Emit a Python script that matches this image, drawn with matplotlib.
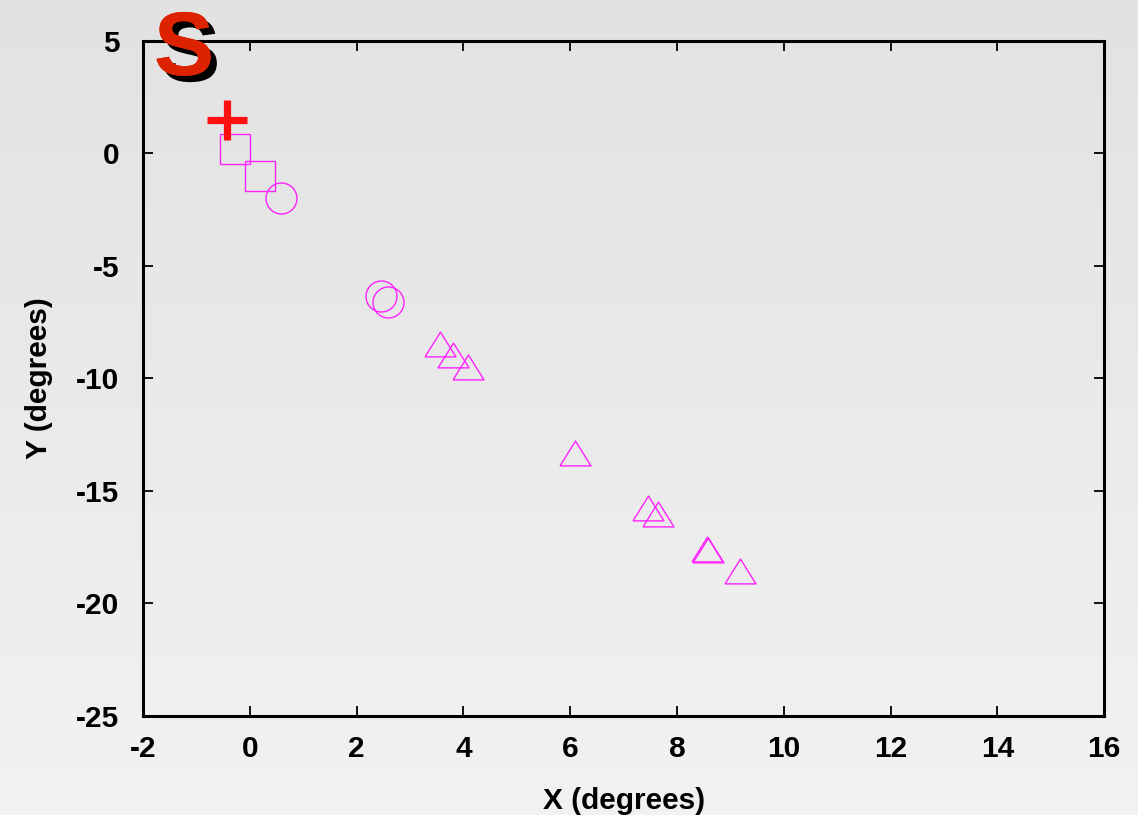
import numpy as np
import matplotlib
matplotlib.use("Agg")
import matplotlib.pyplot as plt
import matplotlib.patheffects as pe

plt.rcParams["font.family"] = ["Liberation Sans", "DejaVu Sans"]
plt.rcParams["axes.unicode_minus"] = False

# data
plus_x = [-0.43]
plus_y = [1.5]
square_x = [-0.28, 0.19]
square_y = [0.21, -1.0]
circle_x = [0.59, 2.46, 2.59]
circle_y = [-1.98, -6.33, -6.6]
tri_x = [3.56, 3.81, 4.08, 6.09, 7.46, 7.64, 8.56, 8.58, 9.18]
tri_y = [-8.45, -8.96, -9.49, -13.33, -15.74, -16.04, -17.57, -17.61, -18.56]

xticks = [-2, 0, 2, 4, 6, 8, 10, 12, 14, 16]
yticks = [5, 0, -5, -10, -15, -20, -25]

fig = plt.figure(figsize=(11.38, 8.15), dpi=100)

# grey gradient background
bg = fig.add_axes([0, 0, 1, 1], zorder=-10)
grad = np.linspace(0, 1, 256).reshape(-1, 1)
bg.imshow(grad, aspect="auto", cmap=matplotlib.colors.LinearSegmentedColormap.from_list(
    "g", ["#e2e2e2", "#f2f2f2"]), extent=[0, 1, 0, 1], origin="upper")
bg.axis("off")

ax = fig.add_axes([0.1257, 0.1215, 0.8445, 0.8282])
ax.set_facecolor("none")

mag = "#ff22ff"
tri = [(-1, -0.8), (1, -0.8), (0, 0.8), (-1, -0.8)]
ax.plot(square_x, square_y, ls="none", marker="s", ms=22.3, mfc="none", mec=mag, mew=1.0, clip_on=False)
ax.plot(circle_x, circle_y, ls="none", marker="o", ms=22.3, mfc="none", mec=mag, mew=1.0, clip_on=False)
ax.plot(tri_x, tri_y, ls="none", marker=tri, ms=22.3, mfc="none", mec=mag, mew=1.0, clip_on=False)
ax.plot(plus_x, plus_y, ls="none", marker="+", ms=29, mec="#ff1010", mew=5.2, clip_on=False)

ax.set_xlim(-2, 16)
ax.set_ylim(-25, 5)
ax.set_xticks(xticks)
ax.set_yticks(yticks)
for s in ax.spines.values():
    s.set_linewidth(2.2)
ax.tick_params(direction="in", length=7, width=1.3, top=True, right=True, labelsize=21.5)
ax.tick_params(axis="x", pad=14)
ax.tick_params(axis="y", pad=17)
for lab in ax.get_xticklabels() + ax.get_yticklabels():
    lab.set_fontweight("bold")

ax.set_xlabel("X (degrees)", fontsize=21.5, fontweight="bold", labelpad=17)
ax.set_ylabel("Y (degrees)", fontsize=21.5, fontweight="bold", labelpad=17)

fig.text(184 / 1138, 1 - 75 / 815, "S", fontsize=65, fontweight="bold", color="#dd2200",
         ha="center", va="baseline",
         path_effects=[pe.withSimplePatchShadow(offset=(4.5, -4.5), shadow_rgbFace="black", alpha=1.0),
                       pe.Normal()])

fig.savefig("out.png", dpi=100)
